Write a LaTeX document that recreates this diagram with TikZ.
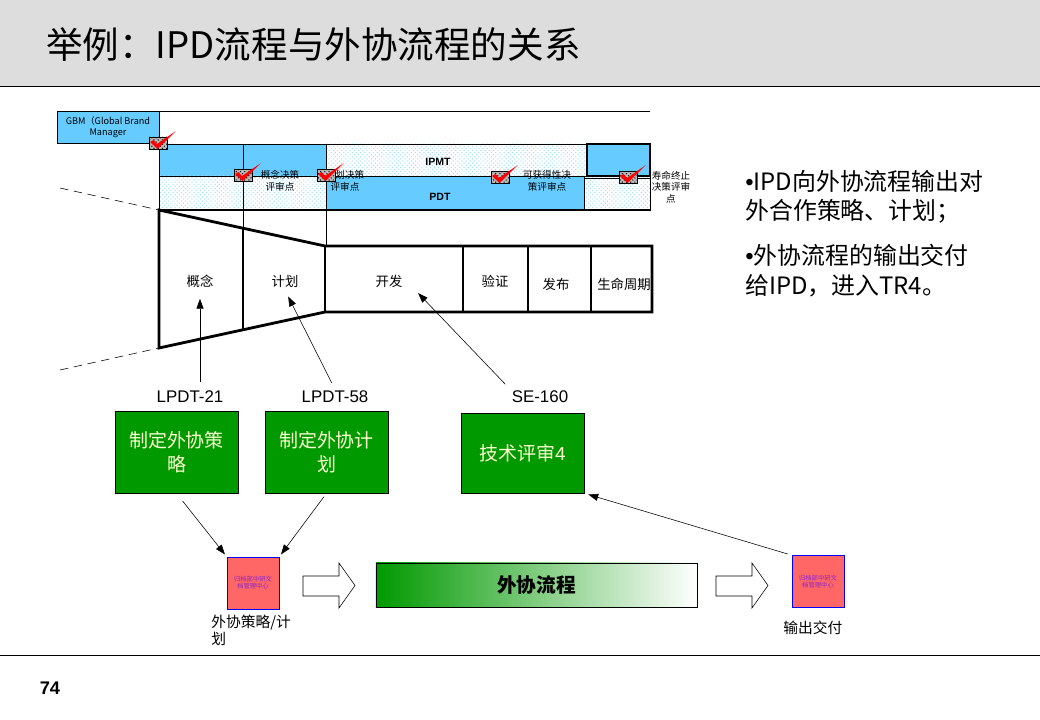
\documentclass[tikz,border=0pt]{standalone}
\usepackage{fontspec}
\setmainfont{Noto Sans CJK SC}
\newfontfamily\arial{Liberation Sans}
\usetikzlibrary{arrows.meta,patterns,positioning}
\definecolor{skyblue}{RGB}{102,204,255}
\definecolor{boxgreen}{RGB}{0,153,0}
\definecolor{salmon}{RGB}{255,102,102}
\definecolor{titlegray}{RGB}{221,221,221}
\definecolor{paleyellow}{RGB}{255,255,210}
\definecolor{archpurple}{RGB}{140,40,200}

\tikzset{
  chk/.pic={
    \filldraw[fill=gray!55,draw=black] (-9,-6) rectangle (9,6);
    \fill[pattern=crosshatch dots,pattern color=black] (-9,-6) rectangle (9,6);
    \fill[red] (-8,-1) -- (-4.5,-3) -- (-1,1) -- (18,-12) -- (-0.5,6) -- cycle;
  },
  dotfill/.style={pattern=crosshatch dots,pattern color=skyblue!65},
  phase/.style={font=\fontsize{9.5}{11}\selectfont,inner sep=2pt},
  tiny/.style={font=\fontsize{6.8}{8.2}\selectfont,align=center,inner sep=0pt},
  lpdt/.style={font=\arial\fontsize{12}{14}\selectfont,inner sep=1pt},
  greenbox/.style={draw=black,fill=boxgreen,text=paleyellow,align=center,
    minimum width=3.075cm,minimum height=2.05cm,
    font=\fontsize{13.5}{17}\selectfont},
  archbox/.style={draw=blue,fill=salmon,text=archpurple,align=center,
    minimum size=1.3cm,inner sep=0pt,font=\fontsize{4.5}{5}\selectfont},
  blockarrow/.style={fill=white,draw=black},
  note/.style={font=\fontsize{10.5}{12}\selectfont,inner sep=0pt},
  bullet/.style={anchor=north west,align=left,inner sep=0pt,
    font=\fontsize{17}{21}\selectfont}
}

\begin{document}
\begin{tikzpicture}[x=0.025cm,y=-0.025cm,>={Triangle[length=7pt,width=5pt]}]
\useasboundingbox (0,0) rectangle (1040,720);

% ---- 标题栏 ----
\fill[titlegray] (0,0) rectangle (1040,86);
\draw (0,86) -- (1040,86);
\node[anchor=west,inner sep=0pt,font=\fontsize{26}{30}\selectfont] (title) at (46,45)
  {举例：IPD流程与外协流程的关系};
\draw (0,655) -- (1040,655);
\node[font=\arial\bfseries\fontsize{13}{15}\selectfont] (pageno) at (50,688) {74};

% ---- GBM 与上部泳道 ----
\draw (159,111) -- (650,111);
\node[draw=black,fill=skyblue,minimum width=2.55cm,minimum height=0.8cm,inner sep=0pt,
  align=center,font=\fontsize{6.5}{8}\selectfont] (gbm) at (108,127)
  {GBM（Global Brand\\Manager};

\fill[skyblue] (159,144) rectangle (326,176);
\fill[white] (159,176) rectangle (326,210);
\fill[dotfill] (159,176) rectangle (326,210);
\fill[white] (326,144) rectangle (587,176);
\fill[dotfill] (326,144) rectangle (587,176);
\fill[skyblue] (587,144) rectangle (650,176);
\fill[skyblue] (326,176) rectangle (584,210);
\fill[white] (584,178) rectangle (650,210);
\fill[dotfill] (584,178) rectangle (650,210);
\draw (159,144) rectangle (650,210);
\draw (159,176) -- (650,176);
\draw (584,178) -- (650,178);
\draw (326,144) -- (326,246);
\draw (587,144) -- (587,176);
\draw (584,176) -- (584,210);
\draw (243,144) -- (243,228);
\draw[line width=1.2pt] (587,144) rectangle (650,176);
\draw[line width=1.2pt] (159,210) -- (650,210);

\node[font=\arial\bfseries\fontsize{7.5}{9}\selectfont] (ipmt) at (438,162) {IPMT};
\node[font=\arial\bfseries\fontsize{7.5}{9}\selectfont] (pdt) at (440,197) {PDT};

% ---- 决策评审点 ----
\node[tiny] (dcpA) at (280,181) {概念决策\\评审点};
\node[tiny] (dcpB) at (345,181) {计划决策\\评审点};
\node[tiny] (dcpC) at (547,181) {可获得性决\\策评审点};
\node[tiny] (dcpD) at (671,187) {寿命终止\\决策评审\\点};
\pic at (158,143) {chk};
\pic at (243,175) {chk};
\pic at (326,175) {chk};
\pic at (500,177) {chk};
\pic at (628,177) {chk};

% ---- IPD 阶段 ----
\draw[dash pattern=on 6pt off 4pt] (60,188) -- (159,210);
\draw[dash pattern=on 6pt off 4pt] (60,370) -- (159,348);
\draw[line width=2pt,line join=miter]
  (159,210) -- (325,246) -- (652,246) -- (652,312) -- (325,312) -- (159,348) -- cycle;
\draw[line width=2pt] (243,228) -- (243,330) (325,246) -- (325,312)
  (463,246) -- (463,312) (528,246) -- (528,312) (591,246) -- (591,312);

\node[phase] (gainian) at (200,281) {概念};
\node[phase] (jihua) at (285,281) {计划};
\node[phase] (kaifa) at (389,281) {开发};
\node[phase] (yanzheng) at (495,281) {验证};
\node[phase] (fabu) at (556,284) {发布};
\node[phase] (shengming) at (624,284) {生命周期};

% ---- 外协活动 ----
\node[lpdt] (lpdtA) at (190,397) {LPDT-21};
\node[lpdt] (lpdtB) at (335,397) {LPDT-58};
\node[lpdt] (se160) at (540,397) {SE-160};

\node[greenbox] (celue) at (176.5,452) {制定外协策\\略};
\node[greenbox] (jihuabox) at (326.5,452) {制定外协计\\划};
\node[greenbox,minimum height=2cm] (jishu) at (522.5,453) {技术评审{\arial 4}};

\draw[->,shorten <=5pt,shorten >=6pt] (lpdtA.north -| gainian.south) -- (gainian.south);
\draw[->,shorten <=5pt,shorten >=5pt] (lpdtB.north) -- (jihua.south);
\draw[->,shorten <=5pt] (se160.north west) -- ([xshift=9pt,yshift=-2pt]kaifa.south east);

% ---- 归档与外协流程 ----
\node[archbox] (archA) at (253,583) {归档部中研文\\档管理中心};
\node[archbox] (archB) at (818,581.5) {归档部中研文\\档管理中心};

\draw[->,shorten <=7pt,shorten >=2pt] (celue.south) -- (archA.north west);
\draw[->,shorten <=3pt,shorten >=2pt] (jihuabox.south) -- (archA.north east);
\draw[->,shorten <=3pt,shorten >=3pt] (archB.north west) -- (jishu.south east);

\filldraw[blockarrow] (303,576) -- (339,576) -- (339,563) -- (355,585.5)
  -- (339,608) -- (339,596) -- (303,596) -- cycle;
\filldraw[blockarrow] (716,576) -- (752,576) -- (752,563) -- (768,585.5)
  -- (752,608) -- (752,596) -- (716,596) -- cycle;

\node[draw=black,left color=boxgreen,right color=white,minimum width=8.025cm,
  minimum height=1.1cm,font=\bfseries\fontsize{14}{16}\selectfont] (waixie) at (536.5,585)
  {外协流程};

\node[note,anchor=north west,align=left] (celuenote) at (211,615) {外协策略/计\\划};
\node[note,anchor=west] (shuchu) at (783,628) {输出交付};

% ---- 右侧说明 ----
\node[bullet] (bulletA) at (745,170) {{\arial •}IPD向外协流程输出对\\外合作策略、计划；};
\node[bullet] (bulletB) at (745,244) {{\arial •}外协流程的输出交付\\给IPD，进入TR4。};

\end{tikzpicture}
\end{document}
